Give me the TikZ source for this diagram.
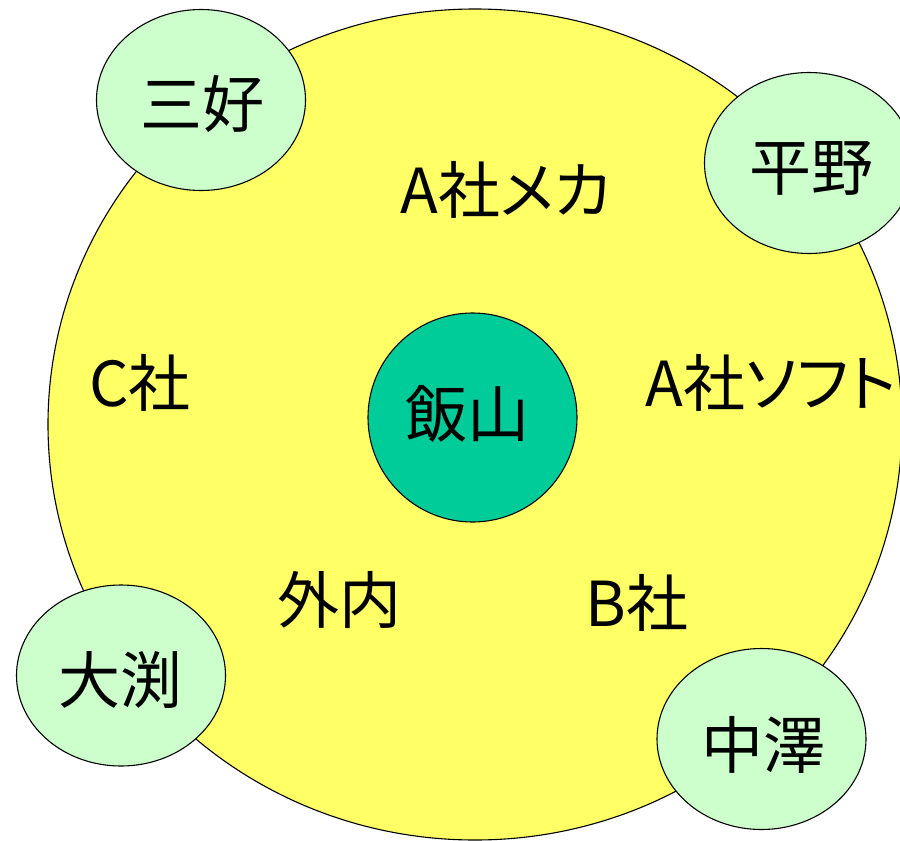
\documentclass[tikz,border=0pt]{standalone}
\usepackage{fontspec}
\setmainfont{Noto Sans CJK JP}[RawFeature=+palt]
\usetikzlibrary{shapes.geometric}
\definecolor{yellowfill}{HTML}{FFFF66}
\definecolor{corefill}{HTML}{00CC99}
\definecolor{memberfill}{HTML}{CCFFCC}
\begin{document}
\begin{tikzpicture}[x=1pt,y=-1pt,
  lbl/.style={inner sep=0pt, font=\fontsize{62}{70}\selectfont},
  outerring/.style={ellipse, draw=black, line width=1.1pt, fill=yellowfill,
    minimum width=854pt, minimum height=831pt, inner sep=0pt},
  member/.style={ellipse, draw=black, line width=1.1pt, fill=memberfill,
    minimum width=209pt, minimum height=181pt, inner sep=0pt},
  core/.style={circle, draw=black, line width=1.1pt, fill=corefill,
    minimum size=209pt, inner sep=0pt}
]
\useasboundingbox (0,0) rectangle (900,841);
\node[outerring] (ring) at (475,424.5) {};
\node[member] (miyoshi) at (201,100) {};
\node[member] (hirano) at (809,163) {};
\node[member] (obuchi) at (121,675.5) {};
\node[member] (nakazawa) at (761.5,739) {};
\node[core] (iiyama) at (472.5,417.5) {};
\node[lbl] (miyoshitext) at (202,104) {三好};
\node[lbl] (hiranotext) at (811,168) {平野};
\node[lbl] (obuchitext) at (120,680) {大渕};
\node[lbl] (nakazawatext) at (763,745) {中澤};
\node[lbl] (iiyamatext) at (467,414) {飯山};
\node[lbl] (amech) at (506,190) {A社メカ};
\node[lbl] (asoft) at (771,383) {A社ソフト};
\node[lbl] (csha) at (140,383) {C社};
\node[lbl] (gainai) at (339,600) {外内};
\node[lbl] (bsha) at (637,603) {B社};
\end{tikzpicture}
\end{document}
